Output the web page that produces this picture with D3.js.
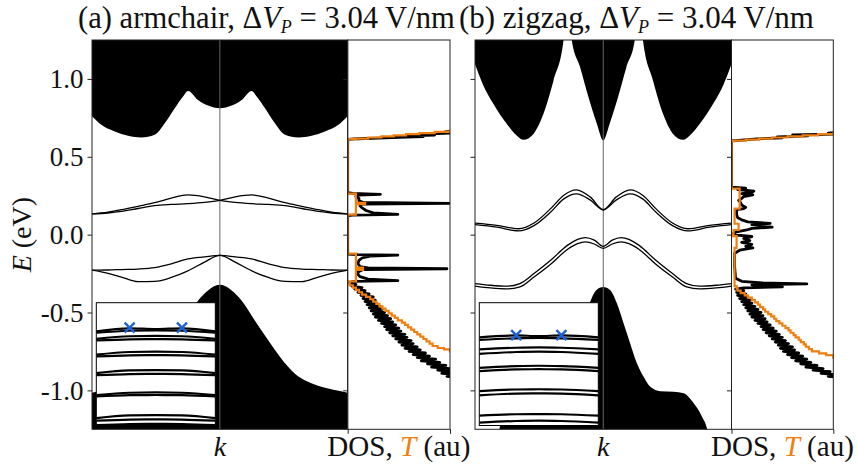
<!DOCTYPE html>
<html>
<head>
<meta charset="utf-8">
<script src="https://cdn.jsdelivr.net/npm/d3@7"></script>
<style>
  body { margin: 0; background: #fff; }
  svg { display: block; }
  text { font-family: "Liberation Serif", serif; }
</style>
</head>
<body>
<div id="chart"></div>
<script>
// k runs from -1 (zone edge) to 1, energies in eV, DOS / T in arbitrary units (0..1 fills the panel)

// ---- (a) armchair ----
const condA = [[-1,0.76],[-0.927,0.705],[-0.822,0.662],[-0.718,0.635],[-0.614,0.624],[-0.51,0.641],[-0.431,0.715],
  [-0.353,0.812],[-0.288,0.887],[-0.249,0.923],[-0.171,0.865],[-0.093,0.829],[0,0.812],[0.093,0.829],[0.171,0.865],
  [0.249,0.923],[0.288,0.887],[0.353,0.812],[0.431,0.715],[0.51,0.641],[0.614,0.624],[0.718,0.635],[0.822,0.662],
  [0.927,0.705],[1,0.76]];
const valA = [[-1,-1.015],[-0.898,-0.998],[-0.794,-0.977],[-0.69,-0.945],[-0.585,-0.891],[-0.48,-0.795],[-0.377,-0.677],
  [-0.272,-0.549],[-0.168,-0.421],[-0.09,-0.357],[-0.04,-0.33],[0,-0.322],[0.04,-0.33],[0.09,-0.357],[0.168,-0.421],
  [0.272,-0.549],[0.377,-0.677],[0.48,-0.795],[0.585,-0.891],[0.69,-0.945],[0.794,-0.977],[0.898,-0.998],[1,-1.015]];
const kEdgeA = [-1,-0.875,-0.77,-0.64,-0.51,-0.38,-0.25,-0.12,0,0.12,0.25,0.38,0.51,0.64,0.77,0.875,1];
const edgeA = [
  [0.133,0.145,0.160,0.182,0.205,0.235,0.255,0.243,0.220,0.207,0.199,0.194,0.186,0.168,0.149,0.139,0.133],
  [0.133,0.139,0.149,0.168,0.186,0.194,0.199,0.207,0.220,0.243,0.255,0.235,0.205,0.182,0.160,0.145,0.133],
  [-0.228,-0.248,-0.272,-0.302,-0.300,-0.275,-0.233,-0.176,-0.133,-0.143,-0.156,-0.188,-0.212,-0.221,-0.224,-0.227,-0.228],
  [-0.228,-0.227,-0.224,-0.221,-0.212,-0.188,-0.156,-0.143,-0.133,-0.176,-0.233,-0.275,-0.300,-0.302,-0.272,-0.248,-0.228]
];
const dosA = [[1.3,1.2],[0.67,1.1],[0.66,0.95],[0.652,1.0],[0.646,0.72],[0.64,0.85],[0.635,0.58],[0.63,0.74],[0.625,0.5],
  [0.62,0.3],[0.616,0.1],[0.612,0],[0.27,0],[0.265,0.05],[0.259,0.32],[0.254,0.1],[0.245,0.08],[0.232,0.11],[0.218,0.11],
  [0.207,0.15],[0.201,1.05],[0.196,0.14],[0.186,0.12],[0.172,0.14],[0.155,0.18],[0.14,0.25],[0.13,0.49],[0.126,0.05],
  [0.122,0],[-0.125,0],[-0.128,0.1],[-0.132,0.49],[-0.138,0.22],[-0.15,0.14],[-0.165,0.11],[-0.185,0.1],[-0.205,0.12],
  [-0.214,0.2],[-0.219,0.97],[-0.224,0.15],[-0.24,0.1],[-0.255,0.1],[-0.27,0.12],[-0.285,0.2],[-0.295,0.49],[-0.3,0.05],
  [-0.31,0.02],[-0.32,0.08],[-0.33,0.04],[-0.34,0.14],[-0.35,0.07],[-0.36,0.17],[-0.37,0.10],[-0.38,0.21],[-0.39,0.13],
  [-0.40,0.25],[-0.41,0.15],[-0.42,0.27],[-0.43,0.17],[-0.44,0.28],[-0.45,0.19],[-0.46,0.32],[-0.47,0.21],[-0.48,0.34],
  [-0.49,0.23],[-0.50,0.36],[-0.51,0.25],[-0.52,0.39],[-0.53,0.27],[-0.54,0.42],[-0.55,0.30],[-0.56,0.44],[-0.57,0.33],
  [-0.58,0.47],[-0.59,0.36],[-0.60,0.50],[-0.61,0.38],[-0.62,0.52],[-0.63,0.41],[-0.64,0.56],[-0.65,0.44],[-0.66,0.58],
  [-0.67,0.47],[-0.68,0.62],[-0.69,0.50],[-0.70,0.64],[-0.71,0.53],[-0.72,0.68],[-0.73,0.56],[-0.74,0.71],[-0.75,0.60],
  [-0.76,0.76],[-0.77,0.64],[-0.78,0.80],[-0.79,0.68],[-0.80,0.86],[-0.81,0.72],[-0.82,0.90],[-0.83,0.78],[-0.84,0.96],
  [-0.85,0.82],[-0.86,1.0],[-0.87,0.88],[-0.88,1.05],[-0.89,0.92],[-0.90,1.1],[-0.91,0.97],[-0.92,1.1],[-1.3,1.2]];
const transA = [[1.3,1.1],[0.668,1.0],[0.66,0.85],[0.652,0.7],[0.645,0.57],[0.638,0.45],[0.631,0.33],[0.624,0.2],
  [0.617,0.08],[0.613,0],[0.263,0.08],[0.205,0.17],[0.196,0.08],[0.128,0],[-0.122,0.08],[-0.212,0.15],[-0.226,0.08],
  [-0.30,0],[-0.31,0.02],[-0.325,0.05],[-0.34,0.08],[-0.355,0.11],[-0.37,0.14],[-0.385,0.18],[-0.40,0.22],[-0.415,0.25],
  [-0.43,0.28],[-0.445,0.31],[-0.46,0.34],[-0.475,0.37],[-0.49,0.40],[-0.505,0.43],[-0.52,0.46],[-0.535,0.49],
  [-0.55,0.53],[-0.565,0.56],[-0.58,0.59],[-0.595,0.62],[-0.61,0.65],[-0.625,0.68],[-0.64,0.71],[-0.655,0.74],
  [-0.67,0.77],[-0.685,0.80],[-0.70,0.83],[-0.715,0.88],[-0.728,0.94],[-0.737,1.0],[-0.75,1.1],[-1.3,1.1]];
const insetKA = [0,0.28,0.5,0.72,1];
const insetA = [
  [-14.0,-12.5,-12.9,-12.5,-14.0],[-14.6,-13.7,-13.5,-13.7,-14.6],[-17.6,-16.4,-16.2,-16.4,-17.6],
  [-18.4,-17.9,-17.8,-17.9,-18.4],[-25.4,-24.1,-23.9,-24.1,-25.4],[-26.2,-25.7,-25.6,-25.7,-26.2],
  [-34.4,-33.1,-32.9,-33.1,-34.4],[-35.4,-34.9,-34.8,-34.9,-35.4],[-45.2,-44.0,-43.8,-44.0,-45.2],
  [-45.8,-45.2,-45.1,-45.2,-45.8],[-56.4,-55.1,-54.9,-55.1,-56.4],[-57.6,-57.1,-57.0,-57.1,-57.6],
  [-59.8,-59.3,-59.2,-59.3,-59.8]];
const markA = [[0.28,-12.2],[0.72,-12.2]];

// ---- (b) zigzag ----
const condB = [[-1,1.096],[-0.94,0.968],[-0.857,0.84],[-0.753,0.712],[-0.675,0.637],[-0.622,0.609],[-0.544,0.647],
  [-0.466,0.776],[-0.388,0.989],[-0.31,1.246],[-0.285,1.45],[-0.27,1.45],[-0.245,1.246],[-0.18,1.074],[-0.115,0.882],
  [-0.05,0.712],[0,0.605],[0.05,0.712],[0.115,0.882],[0.18,1.074],[0.245,1.246],[0.27,1.45],[0.285,1.45],[0.31,1.246],
  [0.388,0.989],[0.466,0.776],[0.544,0.647],[0.622,0.609],[0.675,0.637],[0.753,0.712],[0.857,0.84],[0.94,0.968],[1,1.096]];
const valB = [[-1,-1.4],[-0.84,-1.4],[-0.81,-1.25],[-0.77,-1.169],[-0.705,-1.083],[-0.627,-1.019],[-0.549,-1.009],
  [-0.445,-1.005],[-0.367,-0.977],[-0.315,-0.913],[-0.263,-0.827],[-0.21,-0.699],[-0.159,-0.57],[-0.107,-0.442],
  [-0.055,-0.357],[0,-0.336],[0.055,-0.357],[0.107,-0.442],[0.159,-0.57],[0.21,-0.699],[0.263,-0.827],[0.315,-0.913],
  [0.367,-0.977],[0.445,-1.005],[0.549,-1.009],[0.627,-1.019],[0.705,-1.083],[0.77,-1.169],[0.81,-1.25],[0.84,-1.4],[1,-1.4]];
const kEdgeB = [-1,-0.83,-0.66,-0.54,-0.41,-0.31,-0.21,-0.10,0,0.10,0.21,0.31,0.41,0.54,0.66,0.83,1];
const edgeBc = [
  [0.074,0.060,0.038,0.075,0.167,0.252,0.288,0.241,0.160,0.241,0.288,0.252,0.167,0.075,0.038,0.060,0.074],
  [0.064,0.048,0.024,0.058,0.145,0.228,0.262,0.222,0.160,0.222,0.262,0.228,0.145,0.058,0.024,0.048,0.064]
];
const kEdgeBv = [-1,-0.88,-0.75,-0.65,-0.54,-0.41,-0.28,-0.20,-0.14,-0.07,0,0.07,0.14,0.20,0.28,0.41,0.54,0.65,0.75,0.88,1];
const edgeBv = [
  [-0.314,-0.325,-0.331,-0.314,-0.250,-0.165,-0.069,-0.030,-0.019,-0.035,-0.075,-0.035,-0.019,-0.030,-0.069,-0.165,-0.250,-0.314,-0.331,-0.325,-0.314],
  [-0.330,-0.342,-0.348,-0.335,-0.272,-0.190,-0.095,-0.058,-0.047,-0.060,-0.088,-0.060,-0.047,-0.058,-0.095,-0.190,-0.272,-0.335,-0.348,-0.342,-0.330]
];
const dosB = [[1.3,1.2],[0.66,1.1],[0.652,0.95],[0.645,1.0],[0.64,0.6],[0.634,0.75],[0.628,0.45],[0.622,0.5],[0.615,0.25],
  [0.607,0.1],[0.602,0],[0.305,0],[0.298,0.14],[0.29,0.06],[0.28,0.22],[0.272,0.2],[0.264,0.1],[0.255,0.21],[0.245,0.12],
  [0.232,0.1],[0.22,0.07],[0.205,0.09],[0.19,0.1],[0.175,0.14],[0.167,0.12],[0.16,0.05],[0.13,0.05],[0.11,0.06],
  [0.095,0.1],[0.082,0.16],[0.072,0.38],[0.064,0.2],[0.055,0.3],[0.048,0.4],[0.04,0.2],[0.03,0.15],[0.018,0.05],[0,0],
  [-0.012,0.2],[-0.025,0.12],[-0.038,0.18],[-0.05,0.1],[-0.062,0.2],[-0.075,0.14],[-0.085,0.21],[-0.1,0.08],[-0.12,0.03],
  [-0.2,0.03],[-0.28,0.04],[-0.3,0.1],[-0.31,0.3],[-0.316,0.74],[-0.322,0.2],[-0.33,0.3],[-0.336,0.5],[-0.342,0.12],
  [-0.35,0.04],[-0.36,0.12],[-0.37,0.05],[-0.38,0.14],[-0.39,0.06],[-0.40,0.16],[-0.41,0.08],[-0.42,0.18],[-0.43,0.10],
  [-0.44,0.20],[-0.45,0.12],[-0.46,0.23],[-0.47,0.14],[-0.48,0.26],[-0.49,0.16],[-0.50,0.29],[-0.51,0.18],[-0.52,0.31],
  [-0.53,0.20],[-0.54,0.33],[-0.55,0.23],[-0.56,0.35],[-0.57,0.26],[-0.58,0.38],[-0.59,0.29],[-0.60,0.41],[-0.61,0.31],
  [-0.62,0.44],[-0.63,0.34],[-0.64,0.47],[-0.65,0.37],[-0.66,0.50],[-0.67,0.40],[-0.68,0.53],[-0.69,0.43],[-0.70,0.56],
  [-0.71,0.46],[-0.72,0.60],[-0.73,0.48],[-0.74,0.62],[-0.75,0.51],[-0.76,0.66],[-0.77,0.55],[-0.78,0.70],[-0.79,0.59],
  [-0.80,0.74],[-0.81,0.63],[-0.82,0.78],[-0.83,0.68],[-0.84,0.84],[-0.85,0.73],[-0.86,0.90],[-0.87,0.80],[-0.88,0.97],
  [-0.89,0.88],[-0.90,1.05],[-0.91,0.95],[-0.92,1.1],[-1.3,1.2]];
const transB = [[1.3,1.1],[0.651,1.0],[0.645,0.85],[0.638,0.7],[0.631,0.55],[0.624,0.4],[0.617,0.27],[0.61,0.14],
  [0.604,0.03],[0.60,0],[0.295,0.08],[0.167,0.03],[0.07,0.07],[0.03,0.02],[0,0],[-0.01,0.05],[-0.085,0.03],[-0.33,0.05],
  [-0.345,0.06],[-0.36,0.09],[-0.375,0.13],[-0.39,0.16],[-0.405,0.20],[-0.42,0.23],[-0.435,0.26],[-0.45,0.28],
  [-0.465,0.31],[-0.48,0.33],[-0.495,0.36],[-0.51,0.39],[-0.525,0.42],[-0.54,0.44],[-0.555,0.47],[-0.57,0.50],
  [-0.585,0.53],[-0.60,0.56],[-0.615,0.58],[-0.63,0.61],[-0.645,0.63],[-0.66,0.66],[-0.675,0.68],[-0.69,0.71],
  [-0.705,0.73],[-0.72,0.76],[-0.735,0.79],[-0.75,0.86],[-0.762,0.93],[-0.774,1.0],[-0.79,1.1],[-1.3,1.1]];
const insetKB = [0,0.31,0.5,0.69,1];
const insetB = [
  [-16.9,-16.0,-16.3,-16.0,-16.9],[-18.2,-17.4,-17.2,-17.4,-18.2],[-22.8,-22.0,-21.8,-22.0,-22.8],
  [-25.0,-24.1,-23.9,-24.1,-25.0],[-31.8,-31.0,-30.8,-31.0,-31.8],[-33.4,-32.6,-32.5,-32.6,-33.4],
  [-43.2,-42.4,-42.3,-42.4,-43.2],[-45.3,-44.4,-44.3,-44.4,-45.3],[-55.2,-54.5,-54.4,-54.5,-55.2],
  [-58.6,-57.8,-57.6,-57.8,-58.6]];
const markB = [[0.31,-15.8],[0.69,-15.8]];

const yTicks = [-1.0, -0.5, 0.0, 0.5, 1.0];

// ---- layout ----
const width = 858, height = 466;
const plotTop = 40, plotBottom = 429.3;
const orange = "#f07f10", blue = "#1a62d6", spine = "#222";
const font = "Liberation Serif, serif";

const y = d3.scaleLinear().domain([-1.25, 1.25]).range([plotBottom, plotTop]);

const svg = d3.select("#chart").append("svg")
    .attr("width", width).attr("height", height)
    .attr("font-family", font);

const panels = [
  {id: "a", band: [92, 347.7], dos: [347.7, 450], inset: [96.3, 215.3], titleX: 78, titleW: 379,
   name: "(a) armchair, ", cond: condA, val: valA,
   edges: edgeA.map(e => kEdgeA.map((k, i) => [k, e[i]])),
   dos_: dosA, trans: transA, insetK: insetKA, insetLines: insetA, marks: markA},
  {id: "b", band: [475, 731.5], dos: [731.5, 833.3], inset: [479.3, 598.3], titleX: 459, titleW: 357,
   name: "(b) zigzag, ", cond: condB, val: valB,
   edges: edgeBc.map(e => kEdgeB.map((k, i) => [k, e[i]]))
          .concat(edgeBv.map(e => kEdgeBv.map((k, i) => [k, e[i]]))),
   dos_: dosB, trans: transB, insetK: insetKB, insetLines: insetB, marks: markB}
];

panels.forEach((p, pi) => {
  const kx = d3.scaleLinear().domain([-1, 1]).range(p.band);
  const dx = d3.scaleLinear().domain([0, 1]).range(p.dos);

  svg.append("clipPath").attr("id", "clipBand" + p.id)
    .append("rect").attr("x", p.band[0]).attr("y", plotTop)
    .attr("width", p.band[1] - p.band[0]).attr("height", plotBottom - plotTop);
  svg.append("clipPath").attr("id", "clipDos" + p.id)
    .append("rect").attr("x", p.dos[0]).attr("y", plotTop)
    .attr("width", p.dos[1] - p.dos[0]).attr("height", plotBottom - plotTop);

  const band = svg.append("g").attr("clip-path", `url(#clipBand${p.id})`);

  // bulk continua
  band.append("path").datum(p.cond)
    .attr("fill", "#000")
    .attr("d", d3.area().x(d => kx(d[0])).y0(y(1.6)).y1(d => y(d[1])).curve(d3.curveMonotoneX));
  band.append("path").datum(p.val)
    .attr("fill", "#000")
    .attr("d", d3.area().x(d => kx(d[0])).y0(y(-1.6)).y1(d => y(d[1])).curve(d3.curveMonotoneX));

  // centre line
  band.append("line")
    .attr("x1", kx(0)).attr("x2", kx(0)).attr("y1", plotTop).attr("y2", plotBottom)
    .attr("stroke", "#666").attr("stroke-width", 1);

  // edge states
  const edgeLine = d3.line().x(d => kx(d[0])).y(d => y(d[1])).curve(d3.curveMonotoneX);
  band.selectAll("path.edge").data(p.edges).enter().append("path")
    .attr("class", "edge")
    .attr("fill", "none").attr("stroke", "#000").attr("stroke-width", 1.3)
    .attr("d", edgeLine);

  // inset
  const ix = d3.scaleLinear().domain([0, 1]).range(p.inset);
  const iy = d3.scaleLinear().domain([-60, 0]).range([425.5, 302.7]);
  svg.append("clipPath").attr("id", "clipInset" + p.id)
    .append("rect").attr("x", p.inset[0]).attr("y", 302.7)
    .attr("width", p.inset[1] - p.inset[0]).attr("height", 425.5 - 302.7);
  svg.append("rect")
    .attr("x", p.inset[0]).attr("y", 302.7)
    .attr("width", p.inset[1] - p.inset[0]).attr("height", 425.5 - 302.7)
    .attr("fill", "#fff");
  const ins = svg.append("g").attr("clip-path", `url(#clipInset${p.id})`);
  const insLine = d3.line().x((d, i) => ix(p.insetK[i])).y(d => iy(d)).curve(d3.curveMonotoneX);
  ins.selectAll("path").data(p.insetLines).enter().append("path")
    .attr("fill", "none").attr("stroke", "#000").attr("stroke-width", 2.2)
    .attr("d", insLine);
  ins.selectAll("path.mark").data(p.marks).enter().append("path")
    .attr("class", "mark")
    .attr("transform", d => `translate(${ix(d[0])},${iy(d[1])})`)
    .attr("d", "M-5,-5L5,5M-5,5L5,-5")
    .attr("stroke", blue).attr("stroke-width", 2.4).attr("fill", "none");
  svg.append("rect")
    .attr("x", p.inset[0]).attr("y", 302.7)
    .attr("width", p.inset[1] - p.inset[0]).attr("height", 425.5 - 302.7)
    .attr("fill", "none").attr("stroke", "#000").attr("stroke-width", 1);

  // DOS and transmission
  const dosG = svg.append("g").attr("clip-path", `url(#clipDos${p.id})`);
  dosG.append("path").datum(p.dos_)
    .attr("fill", "none").attr("stroke", "#000").attr("stroke-width", 2.8).attr("stroke-linejoin", "round")
    .attr("d", d3.line().x(d => dx(d[1])).y(d => y(d[0])));
  dosG.append("path").datum(p.trans)
    .attr("fill", "none").attr("stroke", orange).attr("stroke-width", 2.2)
    .attr("d", d3.line().x(d => dx(d[1])).y(d => y(d[0])).curve(d3.curveStepBefore));

  // axes
  const yAxis = d3.axisLeft(y).tickValues(yTicks).tickSize(4.5).tickSizeOuter(0).tickPadding(4)
    .tickFormat(pi === 0 ? (d => d.toFixed(1)) : () => "");
  [p.band[0], p.dos[0]].forEach((x0, j) => {
    const g = svg.append("g").attr("transform", `translate(${x0},0)`)
      .call(j === 0 ? yAxis : yAxis.tickFormat(() => ""));
    g.attr("font-family", font);
    g.select(".domain").remove();
    g.selectAll("line").attr("stroke", spine);
    g.selectAll("text").attr("font-size", 27).attr("fill", "#111").attr("font-family", font);
  });
  const dosAxis = d3.axisBottom(dx).tickValues([0, 1]).tickSize(4.5).tickSizeOuter(0).tickFormat(() => "");
  const gx = svg.append("g").attr("transform", `translate(0,${plotBottom})`).call(dosAxis);
  gx.select(".domain").remove();
  gx.selectAll("line").attr("stroke", spine);

  // spines
  [p.band, p.dos].forEach(r => {
    svg.append("rect").attr("x", r[0]).attr("y", plotTop)
      .attr("width", r[1] - r[0]).attr("height", plotBottom - plotTop)
      .attr("fill", "none").attr("stroke", spine).attr("stroke-width", 1);
  });

  // title
  const t = svg.append("text").attr("x", p.titleX).attr("y", 28).attr("font-family", font)
    .attr("font-size", 26).attr("fill", "#111").style("white-space", "pre");
  t.append("tspan").text(p.name + "\u0394");
  t.append("tspan").attr("font-style", "italic").text("V");
  t.append("tspan").attr("font-style", "italic").attr("font-size", 18).attr("dy", 5).text("P");
  t.append("tspan").attr("dy", -5).text(" = 3.04 V/nm");
  const tw = t.node().getComputedTextLength();
  t.attr("font-size", 26 * p.titleW / tw);

  // x labels
  svg.append("text").attr("x", kx(0)).attr("y", 456).attr("text-anchor", "middle").attr("font-family", font)
    .attr("font-size", 28).attr("font-style", "italic").attr("fill", "#111").text("k");
  const xl = svg.append("text").attr("x", (p.dos[0] + p.dos[1]) / 2).attr("y", 456).attr("font-family", font)
    .attr("text-anchor", "middle").attr("font-size", 27).attr("fill", "#111").style("white-space", "pre");
  xl.append("tspan").text("DOS, ");
  xl.append("tspan").attr("font-style", "italic").attr("fill", orange).text("T");
  xl.append("tspan").text(" (au)");
  const xw = xl.node().getComputedTextLength();
  xl.attr("font-size", 27 * 143 / xw);
});

// y label
const yl = svg.append("text")
  .attr("transform", `translate(31,${y(0)}) rotate(-90)`).attr("font-family", font)
  .attr("text-anchor", "middle").attr("font-size", 28).attr("fill", "#111").style("white-space", "pre");
yl.append("tspan").attr("font-style", "italic").text("E");
yl.append("tspan").text(" (eV)");
</script>
</body>
</html>
